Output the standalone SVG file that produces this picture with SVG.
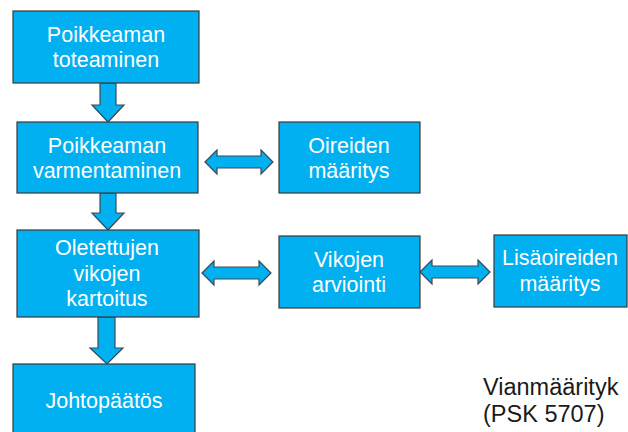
<svg xmlns="http://www.w3.org/2000/svg" width="628" height="432" viewBox="0 0 628 432">
<style>
.box{fill:#00B0F0;stroke:#3a3a3a;stroke-width:1.2}
.arr{fill:#00B0F0;stroke:#3a4a55;stroke-width:1.2;stroke-linejoin:miter}
.t{font-family:"Liberation Sans",Arial,sans-serif;font-size:21.5px;fill:#ffffff;text-anchor:middle}
.cap{font-family:"Liberation Sans",Arial,sans-serif;font-size:23.5px;fill:#1a1a1a}
</style>
<rect width="628" height="432" fill="#ffffff"/>
<g id="connectors">
<polygon class="arr" points="100,83 116,83 116,105 124,105 108,122 92,105 100,105"/>
<polygon class="arr" points="100,193 116,193 116,213 124,213 108,230 92,213 100,213"/>
<polygon class="arr" points="98,317 115,317 115,348 123,348 107,364 90,348 98,348"/>
<polygon class="arr" points="205,162 217,150 217,156 261,156 261,150 273,162 261,174 261,168 217,168 217,174"/>
<polygon class="arr" points="202,273 214,261 214,267 259,267 259,261 271,273 259,285 259,279 214,279 214,285"/>
<polygon class="arr" points="420,272 432,260 432,266 478,266 478,260 490,272 478,284 478,278 432,278 432,284"/>
</g>
<g id="n1"><rect class="box" x="13" y="11" width="186" height="72"/>
<text class="t" x="106" y="42">Poikkeaman</text><text class="t" x="106" y="67">toteaminen</text></g>
<g id="n2"><rect class="box" x="17" y="122" width="181" height="71"/>
<text class="t" x="107" y="153">Poikkeaman</text><text class="t" x="107" y="178">varmentaminen</text></g>
<g id="n3"><rect class="box" x="279" y="122" width="141" height="71"/>
<text class="t" x="349" y="153">Oireiden</text><text class="t" x="349" y="178">määritys</text></g>
<g id="n4"><rect class="box" x="17" y="230" width="182" height="87"/>
<text class="t" x="107" y="255">Oletettujen</text><text class="t" x="107" y="281">vikojen</text><text class="t" x="107" y="306">kartoitus</text></g>
<g id="n5"><rect class="box" x="279" y="236" width="141" height="72"/>
<text class="t" x="349" y="267">Vikojen</text><text class="t" x="349" y="292">arviointi</text></g>
<g id="n6"><rect class="box" x="494" y="235" width="133" height="72"/>
<text class="t" x="560" y="265">Lisäoireiden</text><text class="t" x="560" y="291">määritys</text></g>
<g id="n7"><rect class="box" x="13" y="364" width="182" height="80"/>
<text class="t" x="104" y="408">Johtopäätös</text></g>
<g id="caption">
<text class="cap" x="483" y="395">Vianmäärityk</text>
<text class="cap" x="483" y="422">(PSK 5707)</text>
</g>
</svg>
